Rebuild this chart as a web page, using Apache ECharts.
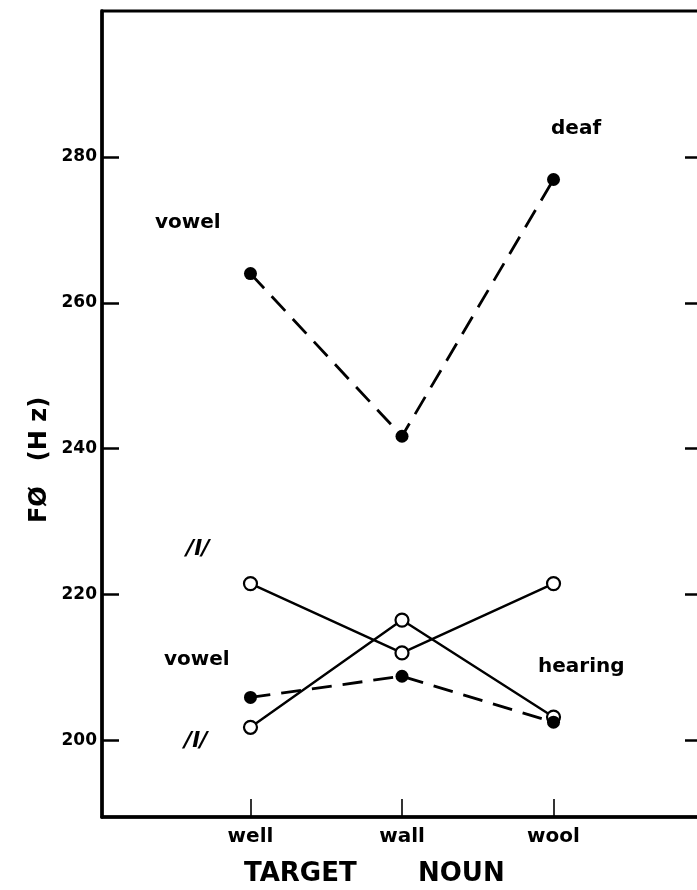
<!DOCTYPE html>
<html>
<head>
<meta charset="utf-8">
<script src="https://cdn.jsdelivr.net/npm/echarts@6/dist/echarts.min.js"></script>
<style>
html,body{margin:0;padding:0;background:#fff;overflow:hidden;}
#chart{width:706px;height:890px;}
</style>
</head>
<body>
<div id="chart"></div>
<script>
// ---- data ----
const categories = ['well', 'wall', 'wool'];
const categoryPos = [1, 2, 3];
const deafVowel = [264.0, 241.7, 276.9];     // filled, dashed
const hearingVowel = [205.9, 208.8, 202.5];  // filled, dashed
const deafL = [221.5, 212.0, 221.5];         // open, solid (upper /l/)
const hearingL = [201.8, 216.5, 203.2];      // open, solid (lower /l/)
const yTickValues = [200, 220, 240, 260, 280];

const FONT = '"DejaVu Sans", "Liberation Sans", sans-serif';
const pts = arr => arr.map((v, i) => [categoryPos[i], v]);

const chart = echarts.init(document.getElementById('chart'), null, {renderer: 'canvas'});

const openSeries = (name, vals) => ({
  name, type: 'line', data: pts(vals), z: 3,
  symbol: 'circle', symbolSize: 13,
  itemStyle: {color: '#fff', borderColor: '#000', borderWidth: 2.2},
  lineStyle: {color: '#000', width: 2.4, type: 'solid'},
  emphasis: {disabled: true}, animation: false
});
const filledSeries = (name, vals) => ({
  name, type: 'line', data: pts(vals), z: 4,
  symbol: 'circle', symbolSize: 13,
  itemStyle: {color: '#000', borderColor: '#000', borderWidth: 0},
  lineStyle: {color: '#000', width: 2.8, type: [20, 11]},
  emphasis: {disabled: true}, animation: false
});

const txt = (text, x, y, size, style) => ({
  type: 'text', x, y,
  style: Object.assign({text, fill: '#000', font: 'bold ' + size + 'px ' + FONT, textAlign: 'left', textVerticalAlign: 'top'}, style || {})
});

chart.setOption({
  animation: false,
  backgroundColor: '#fff',
  grid: {left: 102, top: 11, width: 600, height: 806, show: true, borderColor: '#000', borderWidth: 3, backgroundColor: 'transparent'},
  xAxis: {
    type: 'value', min: 0.02, max: 3.98,
    splitLine: {show: false},
    axisLine: {show: true, lineStyle: {color: '#000', width: 3.5}},
    axisTick: {show: true, inside: true, length: 18, customValues: categoryPos, lineStyle: {color: '#000', width: 1.6}},
    axisLabel: {
      show: true, customValues: categoryPos, margin: 10,
      formatter: v => categories[categoryPos.indexOf(Math.round(v))] || '',
      color: '#000', fontFamily: FONT, fontWeight: 'bold', fontSize: 20
    }
  },
  yAxis: [{
    type: 'value', min: 189.5, max: 300, position: 'left',
    splitLine: {show: false},
    axisLine: {show: true, lineStyle: {color: '#000', width: 3.5}},
    axisTick: {show: true, inside: true, length: 17, customValues: yTickValues, lineStyle: {color: '#000', width: 2.5}},
    axisLabel: {show: true, customValues: yTickValues, margin: 5, color: '#000', fontFamily: FONT, fontWeight: 'bold', fontSize: 17}
  }, {
    type: 'value', min: 189.5, max: 300, position: 'right',
    splitLine: {show: false},
    axisLine: {show: false},
    axisTick: {show: true, inside: true, length: 17, customValues: yTickValues, lineStyle: {color: '#000', width: 2.5}},
    axisLabel: {show: false}
  }],
  series: [
    openSeries('/l/ deaf', deafL),
    openSeries('/l/ hearing', hearingL),
    filledSeries('vowel deaf', deafVowel),
    filledSeries('vowel hearing', hearingVowel)
  ],
  graphic: [
    txt('deaf', 551, 119, 20),
    txt('vowel', 155, 213, 20),
    txt('/l/', 186, 538, 22, {font: 'italic bold 22px ' + FONT}),
    txt('vowel', 164, 650, 20),
    txt('hearing', 538, 657, 20),
    txt('/l/', 184, 730, 22, {font: 'italic bold 22px ' + FONT}),
    txt('TARGET', 244, 861, 26),
    txt('NOUN', 418, 861, 26),
    {type: 'text', x: 40, y: 460, rotation: Math.PI / 2,
     style: {text: 'FØ   (H z)', fill: '#000', font: 'bold 24px ' + FONT, textAlign: 'center', textVerticalAlign: 'middle'}}
  ]
});
</script>
</body>
</html>
